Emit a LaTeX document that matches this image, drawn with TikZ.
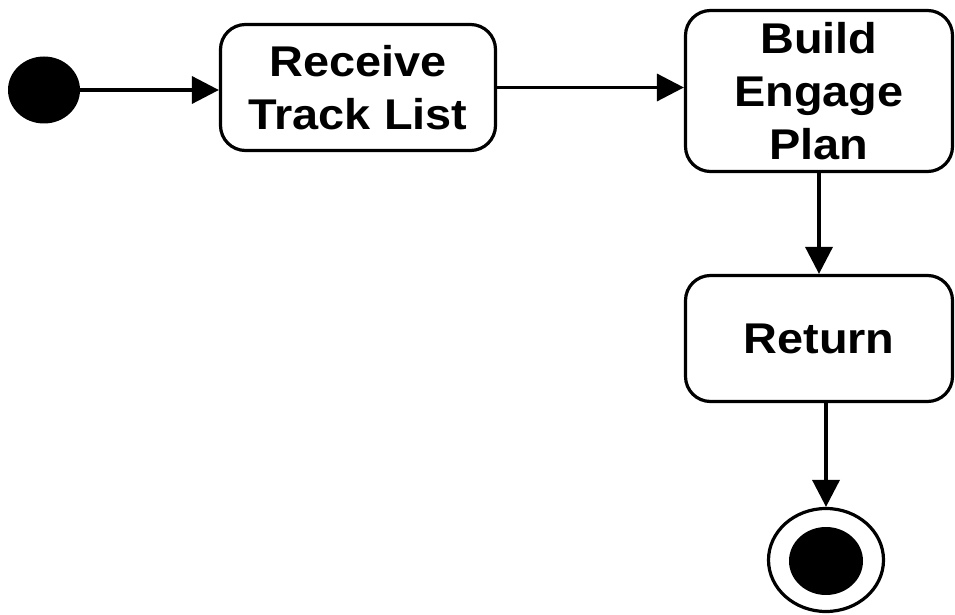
\documentclass[tikz,border=0pt]{standalone}
\usepackage{fontspec}
\setmainfont{Liberation Sans}
\newfontfamily\statefont[FakeStretch=1.09]{Liberation Sans}
\usetikzlibrary{arrows.meta,shapes.geometric}

\begin{document}
\begin{tikzpicture}[x=1pt,y=-1pt,
	state/.style={draw=black,line width=3.2pt,rounded corners=25pt,align=center,inner sep=0pt,
		font=\statefont\bfseries\fontsize{43}{53}\selectfont},
	flow/.style={draw=black,line width=3.6pt,-{Triangle[length=27pt,width=27pt]}}]
	
	\useasboundingbox (0,0) rectangle (955,615);
	
	% initial and final states
	\node[ellipse,fill=black,minimum width=72pt,minimum height=67pt,inner sep=0pt] (start) at (44,90) {};
	\node[ellipse,draw=black,line width=3.2pt,minimum width=115pt,minimum height=103pt,inner sep=0pt] (final) at (826,560) {};
	\node[ellipse,fill=black,minimum width=74pt,minimum height=68pt,inner sep=0pt] (finaldot) at (826,561) {};
	
	% activities
	\node[state,minimum width=275pt,minimum height=126pt] (receive) at (358,87.5) {Receive\\Track List};
	\node[state,minimum width=267pt,minimum height=161pt] (build) at (819,91) {Build\\Engage\\Plan};
	\node[state,minimum width=267pt,minimum height=126pt] (ret) at (819,338.5) {Return};
	
	% transitions
	\draw[flow] (start.east) -- (start.east -| receive.west);
	\draw[flow] (receive.east) -- (receive.east -| build.west);
	\draw[flow] (build.south) -- (ret.north);
	\draw[flow] (final.north |- ret.south) -- (final.north);
\end{tikzpicture}
\end{document}
